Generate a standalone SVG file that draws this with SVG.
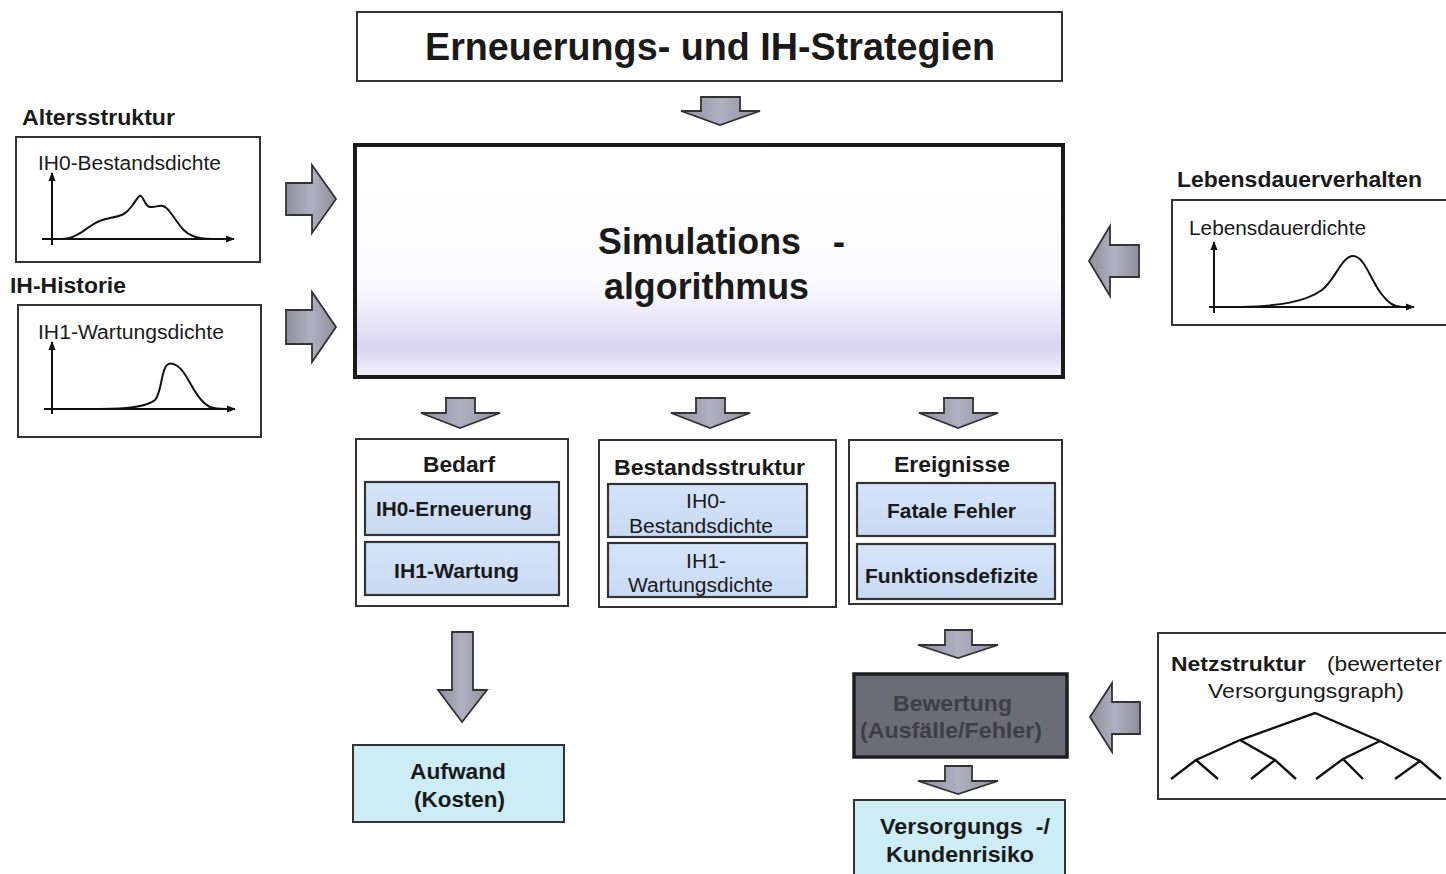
<svg xmlns="http://www.w3.org/2000/svg" width="1446" height="874" viewBox="0 0 1446 874">
<defs>
<linearGradient id="simFill" x1="0" y1="0" x2="0" y2="1">
<stop offset="0" stop-color="#ffffff"/>
<stop offset="0.60" stop-color="#fbfbfe"/>
<stop offset="0.78" stop-color="#e6e2f6"/>
<stop offset="0.87" stop-color="#d9d4f1"/>
<stop offset="1" stop-color="#f3f1fb"/>
</linearGradient>
<linearGradient id="arrFill" x1="0" y1="0" x2="1" y2="0">
<stop offset="0" stop-color="#8e8e9c"/>
<stop offset="0.5" stop-color="#b0b0c0"/>
<stop offset="1" stop-color="#8e8e9c"/>
</linearGradient>
<linearGradient id="blueFill" x1="0" y1="0" x2="0" y2="1">
<stop offset="0" stop-color="#d4e4f8"/>
<stop offset="1" stop-color="#c8daf3"/>
</linearGradient>
<marker id="axh" viewBox="0 0 10 10" refX="9" refY="5" markerWidth="9" markerHeight="9" orient="auto" markerUnits="userSpaceOnUse">
<path d="M0,1 L10,5 L0,9 Z" fill="#111"/>
</marker>
</defs>
<style>
.t{font-family:"Liberation Sans",Arial,sans-serif;fill:#1a1a1a}
.b{font-weight:bold}
.box{fill:#fff;stroke:#333;stroke-width:2}
.inner{fill:url(#blueFill);stroke:#333;stroke-width:2.2}
.cyan{fill:#cdedf6;stroke:#333;stroke-width:2}
.barrow{fill:url(#arrFill);stroke:#333;stroke-width:1.8;stroke-linejoin:miter}
.axis{fill:none;stroke:#111;stroke-width:2}
.curve{fill:none;stroke:#111;stroke-width:2;stroke-linejoin:round}
.tree{fill:none;stroke:#111;stroke-width:2.4}
</style>
<rect width="1446" height="874" fill="#ffffff"/>

<g id="strategien">
<rect class="box" x="357" y="12" width="705" height="69"/>
<text class="t b" x="425" y="60" font-size="39" textLength="570" lengthAdjust="spacingAndGlyphs">Erneuerungs- und IH-Strategien</text>
</g>

<g id="simulation">
<rect x="355" y="145" width="708" height="232" fill="url(#simFill)" stroke="#1a1a1a" stroke-width="4"/>
<text class="t b" x="598" y="254" font-size="37" textLength="203" lengthAdjust="spacingAndGlyphs">Simulations</text>
<text class="t b" x="839" y="254" font-size="37" text-anchor="middle">-</text>
<text class="t b" x="604" y="299" font-size="37" textLength="205" lengthAdjust="spacingAndGlyphs">algorithmus</text>
</g>

<g id="altersstruktur">
<text class="t b" x="22" y="125" font-size="22" textLength="153" lengthAdjust="spacingAndGlyphs">Altersstruktur</text>
<rect class="box" x="16" y="137" width="244" height="125"/>
<text class="t" x="38" y="170" font-size="20" fill="#333" textLength="183" lengthAdjust="spacingAndGlyphs">IH0-Bestandsdichte</text>
<line class="axis" x1="52" y1="245" x2="52" y2="173" marker-end="url(#axh)"/>
<line class="axis" x1="42" y1="239" x2="234" y2="239" marker-end="url(#axh)"/>
<path class="curve" d="M62,239 C70,239 75,236 82,232 C92,225 98,220 110,218 C122,216 126,214 132,206 C137,199 139,195 141,196 C144,198 145,206 150,207 C158,208 162,201 170,212 C178,222 182,232 193,236 C200,239 205,239 212,239"/>
</g>

<g id="ih-historie">
<text class="t b" x="10" y="293" font-size="22" textLength="116" lengthAdjust="spacingAndGlyphs">IH-Historie</text>
<rect class="box" x="18" y="305" width="243" height="132"/>
<text class="t" x="38" y="339" font-size="20" fill="#333" textLength="186" lengthAdjust="spacingAndGlyphs">IH1-Wartungsdichte</text>
<line class="axis" x1="52" y1="414" x2="52" y2="342" marker-end="url(#axh)"/>
<line class="axis" x1="44" y1="409" x2="235" y2="409" marker-end="url(#axh)"/>
<path class="curve" d="M100,409 C130,409 148,406 155,400 C162,392 161,370 167,365 C172,361 180,366 186,376 C194,390 200,402 210,407 C215,409 220,409 226,409"/>
</g>

<g id="lebensdauer">
<text class="t b" x="1177" y="187" font-size="22" textLength="245" lengthAdjust="spacingAndGlyphs">Lebensdauerverhalten</text>
<rect class="box" x="1172" y="200" width="280" height="125"/>
<text class="t" x="1189" y="235" font-size="20" fill="#333" textLength="177" lengthAdjust="spacingAndGlyphs">Lebensdauerdichte</text>
<line class="axis" x1="1214" y1="313" x2="1214" y2="242" marker-end="url(#axh)"/>
<line class="axis" x1="1209" y1="307" x2="1414" y2="307" marker-end="url(#axh)"/>
<path class="curve" d="M1240,307 C1280,306 1305,302 1322,290 C1335,280 1342,256 1353,256 C1364,256 1370,278 1380,292 C1388,303 1394,307 1402,307"/>
</g>

<g id="bedarf">
<rect class="box" x="356" y="439" width="212" height="167"/>
<text class="t b" x="423" y="472" font-size="22" textLength="72" lengthAdjust="spacingAndGlyphs">Bedarf</text>
<rect class="inner" x="365" y="482" width="194" height="53"/>
<text class="t b" x="376" y="516" font-size="21" textLength="156" lengthAdjust="spacingAndGlyphs">IH0-Erneuerung</text>
<rect class="inner" x="365" y="542" width="194" height="53"/>
<text class="t b" x="394" y="578" font-size="21" textLength="125" lengthAdjust="spacingAndGlyphs">IH1-Wartung</text>
</g>

<g id="bestandsstruktur">
<rect class="box" x="599" y="440" width="237" height="167"/>
<text class="t b" x="614" y="475" font-size="22" textLength="191" lengthAdjust="spacingAndGlyphs">Bestandsstruktur</text>
<rect class="inner" x="608" y="484" width="199" height="53"/>
<text class="t" x="686" y="508" font-size="20" fill="#333" textLength="40" lengthAdjust="spacingAndGlyphs">IH0-</text>
<text class="t" x="629" y="533" font-size="20" fill="#333" textLength="144" lengthAdjust="spacingAndGlyphs">Bestandsdichte</text>
<rect class="inner" x="608" y="543" width="199" height="54"/>
<text class="t" x="686" y="568" font-size="20" fill="#333" textLength="40" lengthAdjust="spacingAndGlyphs">IH1-</text>
<text class="t" x="628" y="592" font-size="20" fill="#333" textLength="145" lengthAdjust="spacingAndGlyphs">Wartungsdichte</text>
</g>

<g id="ereignisse">
<rect class="box" x="849" y="440" width="213" height="164"/>
<text class="t b" x="894" y="472" font-size="22" textLength="116" lengthAdjust="spacingAndGlyphs">Ereignisse</text>
<rect class="inner" x="857" y="483" width="198" height="53"/>
<text class="t b" x="887" y="518" font-size="21" textLength="129" lengthAdjust="spacingAndGlyphs">Fatale Fehler</text>
<rect class="inner" x="857" y="544" width="198" height="55"/>
<text class="t b" x="865" y="583" font-size="21" textLength="173" lengthAdjust="spacingAndGlyphs">Funktionsdefizite</text>
</g>

<g id="aufwand">
<rect class="cyan" x="353" y="745" width="211" height="77"/>
<text class="t b" x="410" y="779" font-size="22" textLength="96" lengthAdjust="spacingAndGlyphs">Aufwand</text>
<text class="t b" x="414" y="807" font-size="22" textLength="91" lengthAdjust="spacingAndGlyphs">(Kosten)</text>
</g>

<g id="bewertung">
<rect x="854" y="674" width="213" height="83" fill="#6c6c76" stroke="#1e1e22" stroke-width="3.5"/>
<text class="t b" x="893" y="711" font-size="22" textLength="119" lengthAdjust="spacingAndGlyphs" style="fill:#3e3e48">Bewertung</text>
<text class="t b" x="860" y="738" font-size="22" textLength="182" lengthAdjust="spacingAndGlyphs" style="fill:#3e3e48">(Ausfälle/Fehler)</text>
</g>

<g id="versorgung">
<rect class="cyan" x="854" y="800" width="211" height="80"/>
<text class="t b" x="880" y="834" font-size="22" textLength="170" lengthAdjust="spacingAndGlyphs" xml:space="preserve">Versorgungs  -/</text>
<text class="t b" x="886" y="862" font-size="22" textLength="148" lengthAdjust="spacingAndGlyphs">Kundenrisiko</text>
</g>

<g id="netzstruktur">
<rect class="box" x="1158" y="633" width="296" height="166"/>
<text class="t b" x="1171" y="671" font-size="21" textLength="135" lengthAdjust="spacingAndGlyphs">Netzstruktur</text>
<text class="t" x="1327" y="671" font-size="21" textLength="115" lengthAdjust="spacingAndGlyphs">(bewerteter</text>
<text class="t" x="1208" y="698" font-size="21" textLength="196" lengthAdjust="spacingAndGlyphs">Versorgungsgraph)</text>
<polyline class="tree" points="1171,779 1196,760 1240,740 1315,713 1380,741 1420,761 1441,779"/>
<polyline class="tree" points="1196,760 1218,779"/>
<polyline class="tree" points="1240,740 1275,760 1296,779"/>
<polyline class="tree" points="1275,760 1251,779"/>
<polyline class="tree" points="1380,741 1343,759 1316,779"/>
<polyline class="tree" points="1343,759 1363,779"/>
<polyline class="tree" points="1420,761 1395,779"/>
</g>

<g id="connectors">
<path class="barrow" d="M701,97 H740 V111 H760 L720,125 L681,111 H701 Z"/>
<path class="barrow" d="M286,183 H312 V165 L336,199 L312,233 V215 H286 Z"/>
<path class="barrow" d="M286,310 H312 V292 L336,327 L312,362 V344 H286 Z"/>
<path class="barrow" d="M1139,245 H1110 V226 L1089,261 L1110,296 V277 H1139 Z"/>
<path class="barrow" d="M1140,702 H1112 V683 L1090,717 L1112,752 V734 H1140 Z"/>
<path class="barrow" d="M446,398 H475 V413 H500 L460,428 L421,413 H446 Z"/>
<path class="barrow" d="M696,398 H725 V413 H750 L710,428 L671,413 H696 Z"/>
<path class="barrow" d="M944,398 H973 V413 H998 L958,428 L919,413 H944 Z"/>
<path class="barrow" d="M452,632 H473 V690 H487 L462,722 L438,690 H452 Z"/>
<path class="barrow" d="M945,630 H972 V645 H998 L958,658 L918,645 H945 Z"/>
<path class="barrow" d="M945,766 H972 V781 H998 L958,794 L918,781 H945 Z"/>
</g>
</svg>
